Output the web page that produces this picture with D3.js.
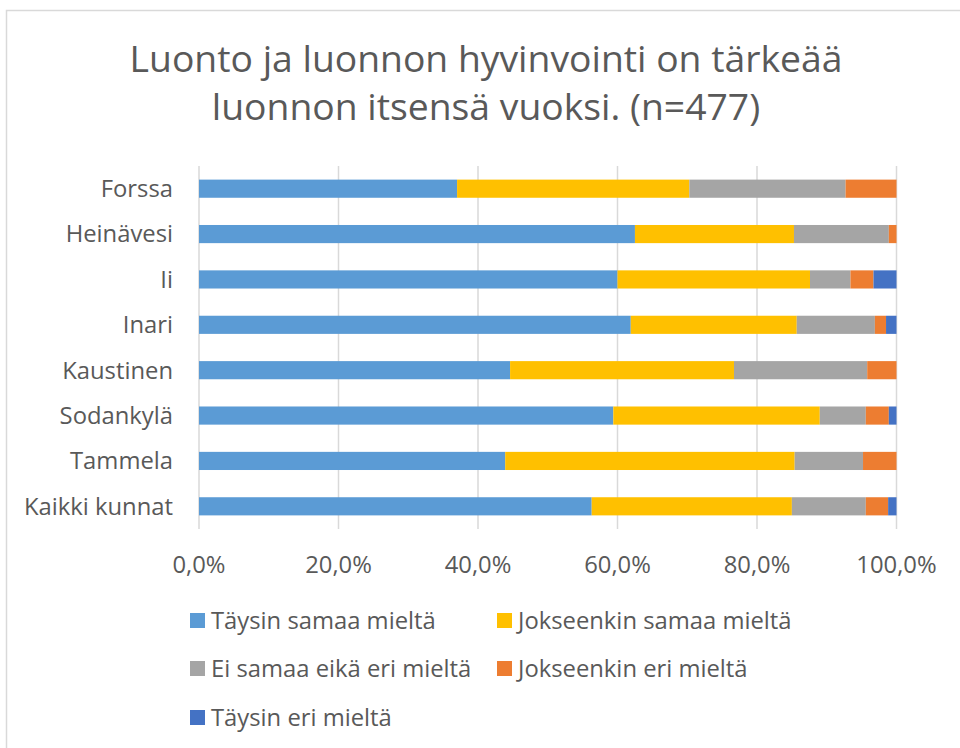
<!DOCTYPE html>
<html>
<head>
<meta charset="utf-8">
<script src="https://cdn.jsdelivr.net/npm/d3@7"></script>
<style>
  body { margin: 0; background: #fff; }
  svg { font-family: "Open Sans", "Noto Sans", sans-serif; }
</style>
</head>
<body>
<div class="graph"></div>
<script>
// municipalities, top to bottom
const kunnat = ['Forssa', 'Heinävesi', 'Ii', 'Inari', 'Kaustinen', 'Sodankylä', 'Tammela', 'Kaikki kunnat'];

// answer shares (%) per series, same order as kunnat
const taysinSamaa     = [37.0, 62.5, 60.0, 61.9, 44.6, 59.4, 43.9, 56.3];
const jokseenkinSamaa = [33.3, 22.8, 27.6, 23.8, 32.1, 29.6, 41.5, 28.7];
const eiSamaaEiEri    = [22.4, 13.6,  5.8, 11.2, 19.1,  6.6,  9.8, 10.6];
const jokseenkinEri   = [ 7.3,  1.1,  3.3,  1.6,  4.2,  3.3,  4.8,  3.2];
const taysinEri       = [ 0.0,  0.0,  3.3,  1.5,  0.0,  1.1,  0.0,  1.2];

const seriesNames = ['Täysin samaa mieltä', 'Jokseenkin samaa mieltä', 'Ei samaa eikä eri mieltä', 'Jokseenkin eri mieltä', 'Täysin eri mieltä'];
const seriesColors = ['#5B9BD5', '#FFC000', '#A5A5A5', '#ED7D31', '#4472C4'];
const xTicks = [0, 0.2, 0.4, 0.6, 0.8, 1.0];

const width = 960;
const height = 748;
const fontSize = '23.8px';

const svg = d3.select('.graph').append('svg')
  .attr('width', width)
  .attr('height', height);

// chart area border
svg.append('rect')
  .attr('x', 6.5).attr('y', 10.5)
  .attr('width', width).attr('height', height)
  .attr('fill', '#fff')
  .attr('stroke', '#d9d9d9')
  .attr('stroke-width', 1.5);

// title
const title = svg.append('text')
  .attr('text-anchor', 'middle')
  .attr('fill', '#595959')
  .style('font-size', '37.3px');
title.append('tspan').attr('x', 486).attr('y', 72).text('Luonto ja luonnon hyvinvointi on tärkeää');
title.append('tspan').attr('x', 486).attr('y', 120).text('luonnon itsensä vuoksi. (n=477)');

const x = d3.scaleLinear().domain([0, 1]).range([199, 896.5]);
const y = d3.scaleBand().domain(kunnat).range([166, 529])
  .paddingInner(0.6).paddingOuter(0.3);

// gridlines
svg.append('g').selectAll('line')
  .data(xTicks)
  .enter().append('line')
  .attr('x1', d => x(d)).attr('x2', d => x(d))
  .attr('y1', 166).attr('y2', 529)
  .attr('stroke', '#d9d9d9')
  .attr('stroke-width', 1.5);

// stack the series
const table = kunnat.map((k, i) => ({
  kunta: k,
  s0: taysinSamaa[i] / 100,
  s1: jokseenkinSamaa[i] / 100,
  s2: eiSamaaEiEri[i] / 100,
  s3: jokseenkinEri[i] / 100,
  s4: taysinEri[i] / 100
}));
const stack = d3.stack().keys(['s0', 's1', 's2', 's3', 's4']);
const layers = stack(table);

svg.append('g').selectAll('g')
  .data(layers)
  .enter().append('g')
  .attr('fill', (d, i) => seriesColors[i])
  .selectAll('rect')
  .data(d => d)
  .enter().append('rect')
  .attr('x', d => x(d[0]))
  .attr('y', d => y(d.data.kunta))
  .attr('width', d => Math.max(0, x(d[1]) - x(d[0])))
  .attr('height', y.bandwidth());

// category labels
svg.append('g').selectAll('text')
  .data(kunnat)
  .enter().append('text')
  .attr('x', 173)
  .attr('y', d => y(d) + y.bandwidth() / 2)
  .attr('dy', '.35em')
  .attr('text-anchor', 'end')
  .attr('fill', '#595959')
  .style('font-size', fontSize)
  .text(d => d);

// x tick labels
const fmt = d => d3.format('.1f')(d * 100).replace('.', ',') + '%';
svg.append('g').selectAll('text')
  .data(xTicks)
  .enter().append('text')
  .attr('x', d => x(d))
  .attr('y', 565)
  .attr('dy', '.35em')
  .attr('text-anchor', 'middle')
  .attr('fill', '#595959')
  .style('font-size', fontSize)
  .text(fmt);

// legend
const legendPos = [[190, 620.5], [497, 620.5], [190, 668.5], [497, 668.5], [190, 717.5]];
const legend = svg.selectAll('.legend')
  .data(seriesNames)
  .enter().append('g')
  .attr('class', 'legend')
  .attr('transform', (d, i) => 'translate(' + legendPos[i][0] + ',' + legendPos[i][1] + ')');

legend.append('rect')
  .attr('x', 0).attr('y', -7.5)
  .attr('width', 15).attr('height', 15)
  .attr('fill', (d, i) => seriesColors[i]);

legend.append('text')
  .attr('x', 21)
  .attr('y', 0)
  .attr('dy', '.35em')
  .attr('fill', '#595959')
  .style('font-size', fontSize)
  .text(d => d);
</script>
</body>
</html>
